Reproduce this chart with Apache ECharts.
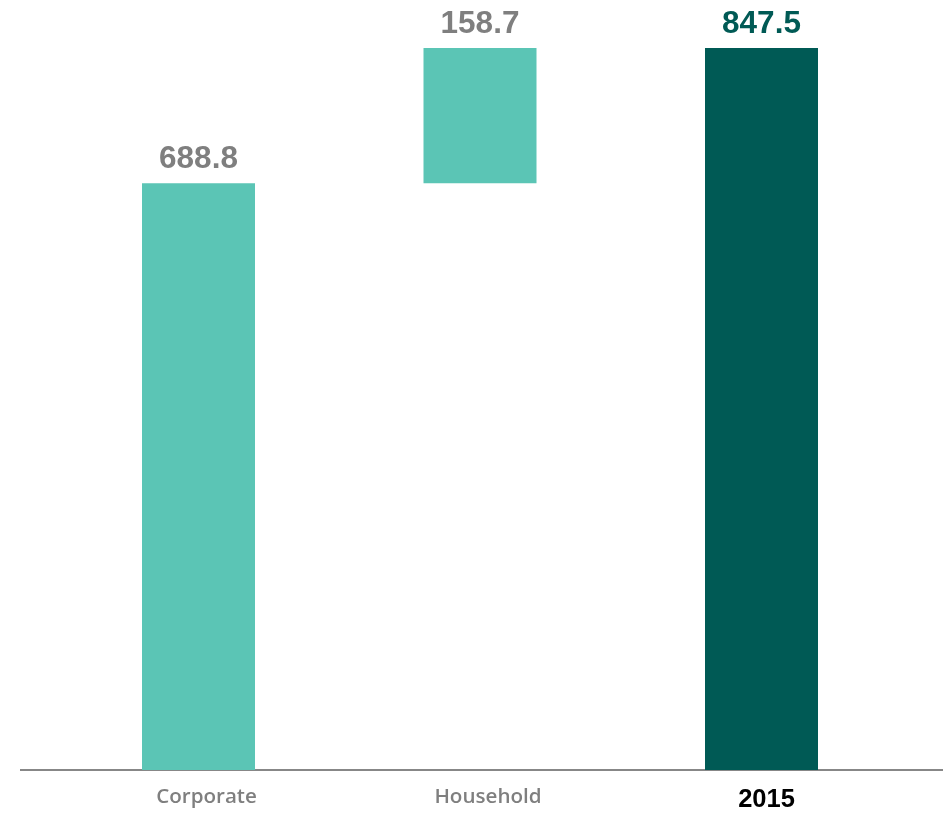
<!DOCTYPE html>
<html><head><meta charset="utf-8">
<script src="https://cdn.jsdelivr.net/npm/echarts@6/dist/echarts.min.js"></script>
<style>html,body{margin:0;padding:0;background:#fff}#c{width:946px;height:814px}</style>
</head><body><div id="c"></div>
<script>
const categories = ['Corporate', 'Household', '2015'];
const values = [688.8, 158.7, 847.5];
const isTotal = [false, false, true];

// invisible base for floating waterfall steps
const bases = [];
let run = 0;
for (let i = 0; i < values.length; i++) {
  if (isTotal[i]) { bases.push(0); run = values[i]; }
  else { bases.push(run); run += values[i]; }
}

const light = '#5BC5B5', dark = '#005A55', gray = '#7F7F7F';

const chart = echarts.init(document.getElementById('c'), null, {renderer: 'canvas'});
chart.setOption({
  animation: false,
  grid: {left: 57.75, right: 43.75, top: 48, bottom: 44, containLabel: false},
  xAxis: {
    type: 'category', data: categories,
    axisLine: {show: false}, axisTick: {show: false},
    axisLabel: {
      margin: 17, fontSize: 21,
      formatter: function (v, i) { return isTotal[i] ? '{t|' + v + '}' : '{c|' + v + '}'; },
      rich: {
        c: {fontFamily: 'Open Sans', fontWeight: 600, fontSize: 20.6, color: gray, padding: [0, 0, 0, 16]},
        t: {fontFamily: 'Liberation Sans, Arial', fontWeight: 'bold', fontSize: 25.5, color: '#000', padding: [0, 0, 0, 10]}
      }
    }
  },
  yAxis: {type: 'value', min: 0, max: 847.5, show: false, splitLine: {show: false}},
  graphic: [{
    type: 'line', z: 0,
    shape: {x1: 20, y1: 770, x2: 943, y2: 770},
    style: {stroke: '#878787', lineWidth: 2}
  }],
  series: [
    {type: 'bar', stack: 'w', data: bases, barWidth: 113,
     itemStyle: {color: 'transparent'}, silent: true, z: 2},
    {type: 'bar', stack: 'w', barWidth: 113, z: 3,
     data: values.map((v, i) => ({
       value: v,
       itemStyle: {color: isTotal[i] ? dark : light},
       label: {color: isTotal[i] ? dark : gray}
     })),
     label: {
       show: true, position: 'top', distance: 8,
       fontFamily: 'Liberation Sans, Arial', fontWeight: 'bold', fontSize: 31.5,
       formatter: p => p.value.toFixed(1)
     }
    }
  ]
});
</script></body></html>
